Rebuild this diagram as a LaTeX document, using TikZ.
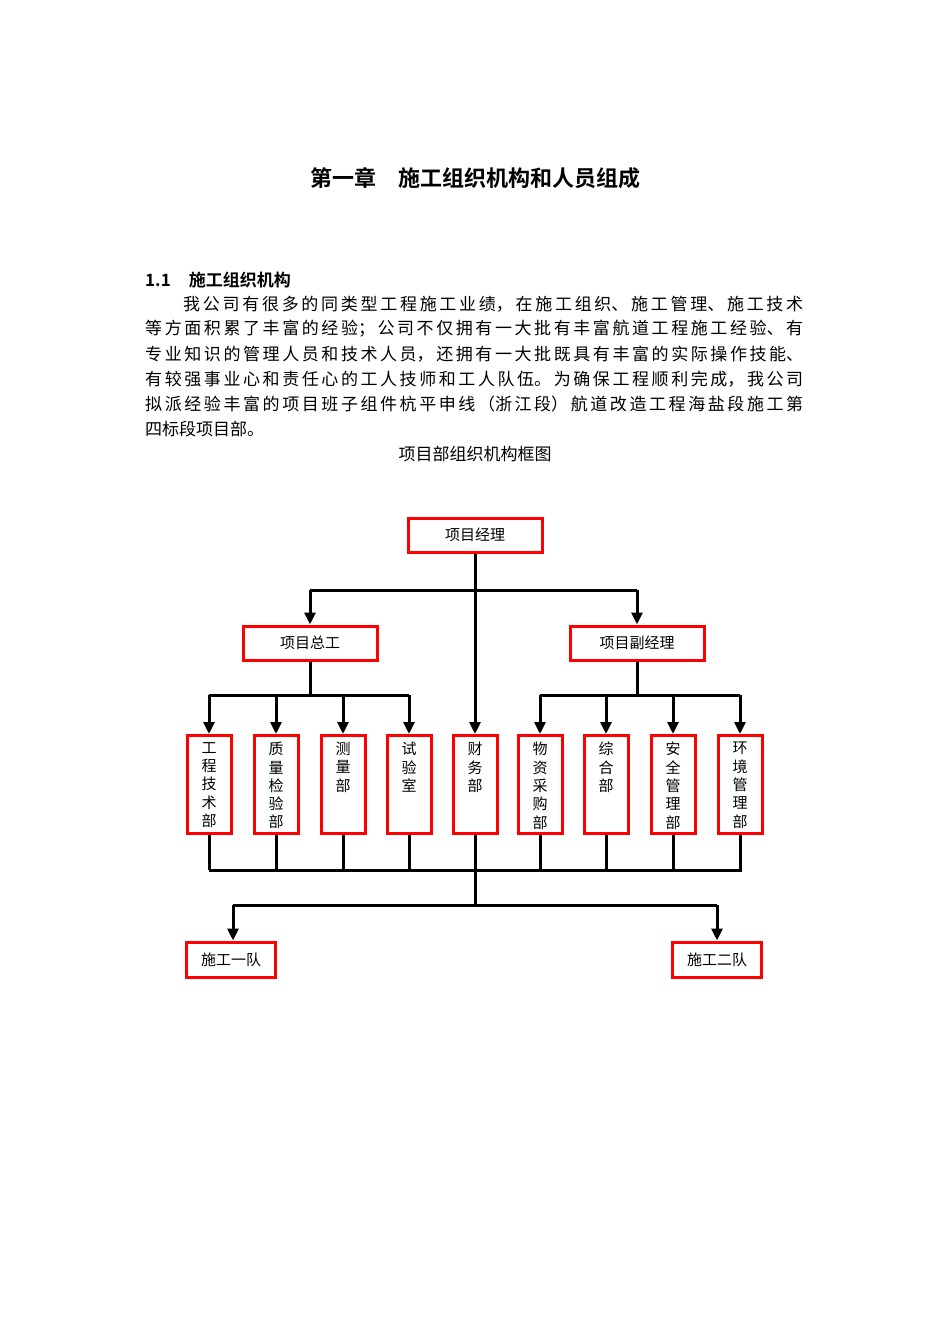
\documentclass[tikz,border=0pt]{standalone}
\usepackage{fontspec}
\setmainfont{Noto Sans CJK SC}
\newfontfamily\cjkb{Noto Sans CJK SC Bold}
\usetikzlibrary{arrows.meta}
\XeTeXlinebreaklocale "zh"
\XeTeXlinebreakskip=0pt plus 4pt
\begin{document}
\begin{tikzpicture}[x=1pt,y=-1pt,
  box/.style={draw=red,line width=3pt,fill=white,inner sep=0pt,font=\fontsize{15}{15}\selectfont},
  vbox/.style={box,minimum width=44pt,minimum height=98pt},
  hbox/.style={box,minimum width=134pt,minimum height=34pt},
  sbox/.style={box,minimum width=89pt,minimum height=35pt},
  ln/.style={line width=3pt},
  ar/.style={ln,-{Triangle[length=12pt,width=11pt]}},
  tl/.style={anchor=west,inner sep=0pt,font=\fontsize{17}{17}\selectfont}]
\useasboundingbox[fill=white] (0,0) rectangle (950,1344);
\node[font=\cjkb\fontsize{22}{22}\selectfont] (title) at (475,178) {第一章\hspace{22pt}施工组织机构和人员组成};
\node[anchor=west,inner sep=0pt,font=\cjkb\fontsize{17}{17}\selectfont] (sec) at (145,280) {1.1\hspace{18pt}施工组织机构};
\node[tl] (p1) at (183,304) {\parbox{620pt}{\parfillskip=0pt 我公司有很多的同类型工程施工业绩，在施工组织、施工管理、施工技术}};
\node[tl] (p2) at (145,329) {\parbox{658pt}{\parfillskip=0pt 等方面积累了丰富的经验；公司不仅拥有一大批有丰富航道工程施工经验、有}};
\node[tl] (p3) at (145,354) {\parbox{658pt}{\parfillskip=0pt 专业知识的管理人员和技术人员，还拥有一大批既具有丰富的实际操作技能、}};
\node[tl] (p4) at (145,379) {\parbox{658pt}{\parfillskip=0pt 有较强事业心和责任心的工人技师和工人队伍。为确保工程顺利完成，我公司}};
\node[tl] (p5) at (145,404) {\parbox{658pt}{\parfillskip=0pt 拟派经验丰富的项目班子组件杭平申线（浙江段）航道改造工程海盐段施工第}};
\node[tl] (p6) at (145,429) {四标段项目部。};
\node[font=\fontsize{17}{17}\selectfont] (cap) at (475,454) {项目部组织机构框图};

\node[hbox] (pm) at (475,535) {项目经理};
\node[hbox] (ce) at (310,643) {项目总工};
\node[hbox] (dm) at (637,643) {项目副经理};
\foreach \n/\x in {a/209, b/276, c/343, d/409, e/475, f/540, g/606, h/673, i/740}
  \node[vbox] (\n) at (\x,784.5) {};
\foreach \n/\t in {a/{工\\程\\技\\术\\部}, b/{质\\量\\检\\验\\部}, c/{测\\量\\部}, d/{试\\验\\室}, e/{财\\务\\部}, f/{物\\资\\采\\购\\部}, g/{综\\合\\部}, h/{安\\全\\管\\理\\部}, i/{环\\境\\管\\理\\部}}
  \node[anchor=north,align=center,inner sep=0pt,font=\fontsize{15}{18.3}\selectfont] at ([yshift=-8pt]\n.north) {\t};
\node[sbox] (t1) at (231,959.5) {施工一队};
\node[sbox] (t2) at (717,959.5) {施工二队};

\coordinate (j1) at (475,590);
\draw[ar] (pm.south) -- (e.north);
\draw[ln] (ce.north |- j1) -- (dm.north |- j1);
\draw[ar] (ce.north |- j1) -- (ce.north);
\draw[ar] (dm.north |- j1) -- (dm.north);
\coordinate (j2) at (310,695);
\draw[ln] (ce.south) -- (j2);
\draw[ln] (a.north |- j2) -- (d.north |- j2);
\foreach \n in {a,b,c,d} \draw[ar] (\n.north |- j2) -- (\n.north);
\coordinate (j3) at (637,695);
\draw[ln] (dm.south) -- (j3);
\draw[ln] (f.north |- j3) -- (i.north |- j3);
\foreach \n in {f,g,h,i} \draw[ar] (\n.north |- j3) -- (\n.north);
\coordinate (j4) at (475,870);
\foreach \n in {a,b,c,d,e,f,g,h,i} \draw[ln] (\n.south) -- (\n.south |- j4);
\draw[ln] (a.south |- j4) -- ([xshift=2pt]i.south |- j4);
\coordinate (j5) at (475,905);
\draw[ln] (j4) -- (j5);
\draw[ln] ([xshift=2pt]t1.north |- j5) -- (t2.north |- j5);
\draw[ar] ([xshift=2pt]t1.north |- j5) -- ([xshift=2pt]t1.north);
\draw[ar] (t2.north |- j5) -- (t2.north);
\end{tikzpicture}
\end{document}
